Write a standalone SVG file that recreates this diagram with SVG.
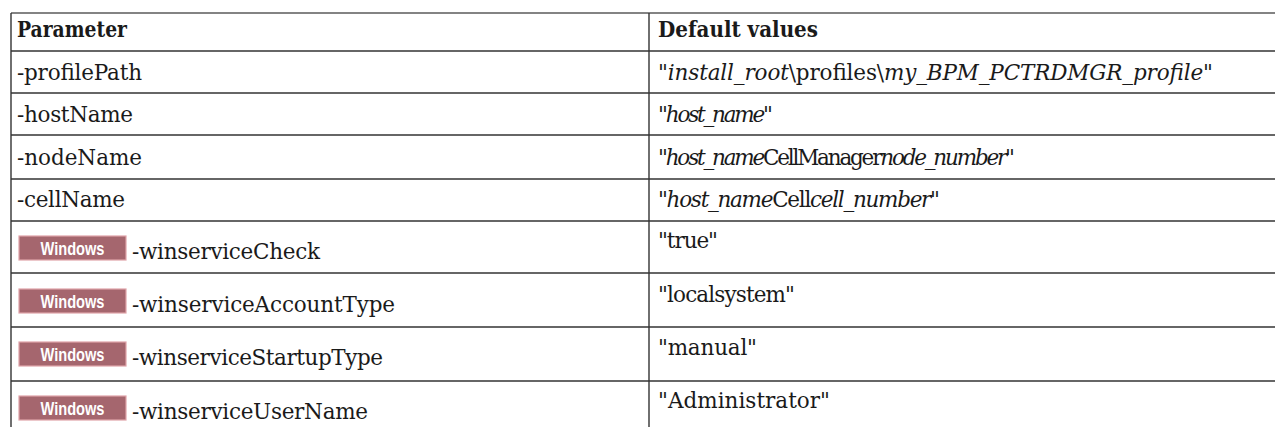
<svg xmlns="http://www.w3.org/2000/svg" width="1275" height="427" viewBox="0 0 1275 427">
<style>
.t{font-family:"DejaVu Serif","Liberation Serif",serif;font-size:21.5px;fill:#1a1a1a}
.b{font-weight:bold}
.i{font-style:italic}
.grid{stroke:#333;stroke-width:1.4;fill:none}
.top{stroke:#5a5a5a;stroke-width:1.4}
.badge{fill:#a5666e;stroke:#dfa3a9;stroke-width:1.2}
.bt{font-family:"Liberation Sans Narrow","Liberation Sans",sans-serif;font-size:19px;font-weight:bold;fill:#fff}
</style>
<rect width="1275" height="427" fill="#fff"/>
<g id="grid">
<line class="top" x1="11" y1="13" x2="1275" y2="13"/>
<line class="grid" x1="11" y1="51" x2="1275" y2="51"/>
<line class="grid" x1="11" y1="93" x2="1275" y2="93"/>
<line class="grid" x1="11" y1="135" x2="1275" y2="135"/>
<line class="grid" x1="11" y1="179" x2="1275" y2="179"/>
<line class="grid" x1="11" y1="221" x2="1275" y2="221"/>
<line class="grid" x1="11" y1="273" x2="1275" y2="273"/>
<line class="grid" x1="11" y1="327" x2="1275" y2="327"/>
<line class="grid" x1="11" y1="381" x2="1275" y2="381"/>
<line class="grid" x1="11" y1="13" x2="11" y2="427"/>
<line class="grid" x1="649" y1="13" x2="649" y2="427"/>
</g>
<g id="header">
<text class="t b" x="17" y="37" textLength="110" lengthAdjust="spacingAndGlyphs">Parameter</text>
<text class="t b" x="658" y="37" textLength="160" lengthAdjust="spacingAndGlyphs">Default values</text>
</g>
<g id="row-profilePath">
<text class="t" x="17" y="80" textLength="125">-profilePath</text>
<text class="t" x="658" y="80" textLength="555">"<tspan class="i">install_root</tspan>\profiles\<tspan class="i">my_BPM_PCTRDMGR_profile</tspan>"</text>
</g>
<g id="row-hostName">
<text class="t" x="17" y="122" textLength="116">-hostName</text>
<text class="t" x="658" y="122" textLength="115">"<tspan class="i">host_name</tspan>"</text>
</g>
<g id="row-nodeName">
<text class="t" x="17" y="165" textLength="125">-nodeName</text>
<text class="t" x="658" y="165" textLength="357">"<tspan class="i">host_name</tspan>CellManager<tspan class="i">node_number</tspan>"</text>
</g>
<g id="row-cellName">
<text class="t" x="17" y="207" textLength="108">-cellName</text>
<text class="t" x="658" y="207" textLength="282">"<tspan class="i">host_name</tspan>Cell<tspan class="i">cell_number</tspan>"</text>
</g>
<g id="row-winserviceCheck">
<rect class="badge" x="19" y="236" width="107" height="24"/>
<text class="bt" x="72.5" y="255" text-anchor="middle" textLength="64" lengthAdjust="spacingAndGlyphs">Windows</text>
<text class="t" x="132" y="259" textLength="188">-winserviceCheck</text>
<text class="t" x="658" y="248" textLength="60">"true"</text>
</g>
<g id="row-winserviceAccountType">
<rect class="badge" x="19" y="289" width="107" height="24"/>
<text class="bt" x="72.5" y="308" text-anchor="middle" textLength="64" lengthAdjust="spacingAndGlyphs">Windows</text>
<text class="t" x="132" y="312" textLength="263">-winserviceAccountType</text>
<text class="t" x="658" y="302" textLength="137">"localsystem"</text>
</g>
<g id="row-winserviceStartupType">
<rect class="badge" x="19" y="342" width="107" height="24"/>
<text class="bt" x="72.5" y="361" text-anchor="middle" textLength="64" lengthAdjust="spacingAndGlyphs">Windows</text>
<text class="t" x="132" y="365" textLength="251">-winserviceStartupType</text>
<text class="t" x="658" y="355" textLength="99">"manual"</text>
</g>
<g id="row-winserviceUserName">
<rect class="badge" x="19" y="396" width="107" height="24"/>
<text class="bt" x="72.5" y="415" text-anchor="middle" textLength="64" lengthAdjust="spacingAndGlyphs">Windows</text>
<text class="t" x="132" y="419" textLength="236">-winserviceUserName</text>
<text class="t" x="658" y="408" textLength="172">"Administrator"</text>
</g>
</svg>
